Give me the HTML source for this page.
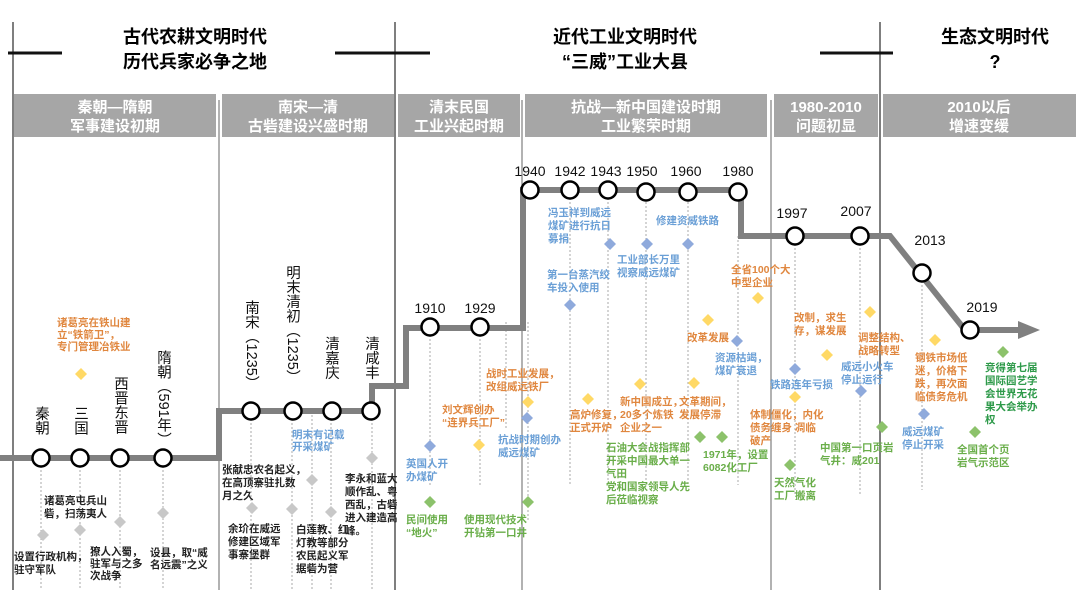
<!DOCTYPE html>
<html><head><meta charset="utf-8"><style>
html,body{margin:0;padding:0;background:#fff}
svg{display:block;font-family:"Liberation Sans","Noto Sans CJK SC",sans-serif}
.t{font-size:10.5px;font-weight:bold}
.o{fill:#e0873f}.b{fill:#6a9fd6}.g{fill:#6aae4a}.k{fill:#222}.dg{fill:#2e9a4a}
.yr{font-size:14px;fill:#111}
.vt{writing-mode:vertical-rl;font-size:14.5px;fill:#111}
.bar{fill:#a6a6a6}
.bt{fill:#fff;font-size:15px;font-weight:bold;text-anchor:middle}
.h{font-size:18px;font-weight:bold;text-anchor:middle;fill:#000}
</style></head><body>
<svg width="1080" height="601" viewBox="0 0 1080 601">
<g stroke="#7f7f7f">
<line x1="13" y1="22" x2="13" y2="590" stroke-width="2"/>
<line x1="395" y1="22" x2="395" y2="590" stroke-width="2"/>
<line x1="880" y1="22" x2="880" y2="590" stroke-width="2"/>
<line x1="219" y1="100" x2="219" y2="590" stroke-width="1.2"/>
<line x1="522" y1="100" x2="522" y2="590" stroke-width="1.2"/>
<line x1="771" y1="100" x2="771" y2="590" stroke-width="1.2"/>
</g>
<g stroke="#111" stroke-width="3">
<line x1="8" y1="53" x2="62" y2="53"/><line x1="335" y1="53" x2="395" y2="53"/>
<line x1="395" y1="53" x2="430" y2="53"/><line x1="820" y1="53" x2="893" y2="53"/>
</g>
<text class="h" x="195" y="43">古代农耕文明时代</text>
<text class="h" x="195" y="68">历代兵家必争之地</text>
<text class="h" x="625" y="43">近代工业文明时代</text>
<text class="h" x="625" y="68">“三威”工业大县</text>
<text class="h" x="995" y="43">生态文明时代</text>
<text class="h" x="995" y="68">?</text>
<rect class="bar" x="14" y="94" width="202" height="43"/>
<rect class="bar" x="222" y="94" width="172" height="43"/>
<rect class="bar" x="398" y="94" width="122" height="43"/>
<rect class="bar" x="525" y="94" width="242" height="43"/>
<rect class="bar" x="774" y="94" width="104" height="43"/>
<rect class="bar" x="883" y="94" width="193" height="43"/>
<text class="bt" x="115" y="112">秦朝—隋朝</text><text class="bt" x="115" y="131">军事建设初期</text>
<text class="bt" x="308" y="112">南宋—清</text><text class="bt" x="308" y="131">古砦建设兴盛时期</text>
<text class="bt" x="459" y="112">清末民国</text><text class="bt" x="459" y="131">工业兴起时期</text>
<text class="bt" x="646" y="112">抗战—新中国建设时期</text><text class="bt" x="646" y="131">工业繁荣时期</text>
<text class="bt" x="826" y="112">1980-2010</text><text class="bt" x="826" y="131">问题初显</text>
<text class="bt" x="979" y="112">2010以后</text><text class="bt" x="979" y="131">增速变缓</text>
<g stroke="#aaa" stroke-width="1" stroke-dasharray="2,2">
<line x1="41" y1="458" x2="41" y2="590"/><line x1="80" y1="458" x2="80" y2="590"/>
<line x1="120" y1="458" x2="120" y2="590"/><line x1="163" y1="458" x2="163" y2="590"/>
<line x1="251" y1="411" x2="251" y2="590"/><line x1="292" y1="411" x2="292" y2="590"/>
<line x1="312" y1="411" x2="312" y2="590"/>
<line x1="331" y1="411" x2="331" y2="590"/><line x1="372" y1="411" x2="372" y2="590"/>
<line x1="430" y1="327" x2="430" y2="485"/><line x1="480" y1="327" x2="480" y2="485"/>
<line x1="506" y1="322" x2="506" y2="430"/><line x1="528" y1="322" x2="528" y2="520"/>
<line x1="570" y1="190" x2="570" y2="485"/><line x1="608" y1="190" x2="608" y2="485"/>
<line x1="646" y1="190" x2="646" y2="485"/><line x1="688" y1="190" x2="688" y2="485"/>
<line x1="738" y1="236" x2="738" y2="485"/>
<line x1="795" y1="236" x2="795" y2="495"/><line x1="860" y1="236" x2="860" y2="495"/>
<line x1="922" y1="273" x2="922" y2="490"/>
</g>
<polyline points="0,458 219,458 219,411 372,411 372,386 406,386 406,328 523,328 523,190 741,190 741,236 890,236 965,330 1020,330" fill="none" stroke="#808080" stroke-width="6"/>
<polygon points="1018,321 1040,330 1018,339" fill="#808080"/>
<g fill="#fff" stroke="#000" stroke-width="2.5">
<circle cx="41" cy="458" r="8.5"/><circle cx="80" cy="458" r="8.5"/><circle cx="120" cy="458" r="8.5"/><circle cx="163" cy="458" r="8.5"/>
<circle cx="251" cy="411" r="8.5"/><circle cx="293" cy="411" r="8.5"/><circle cx="332" cy="411" r="8.5"/><circle cx="371" cy="411" r="8.5"/>
<circle cx="430" cy="327" r="8.5"/><circle cx="480" cy="327" r="8.5"/>
<circle cx="530" cy="190" r="8.5"/><circle cx="570" cy="190" r="8.5"/><circle cx="608" cy="190" r="8.5"/><circle cx="646" cy="192" r="8.5"/><circle cx="688" cy="192" r="8.5"/><circle cx="738" cy="192" r="8.5"/>
<circle cx="795" cy="236" r="8.5"/><circle cx="860" cy="236" r="8.5"/><circle cx="922" cy="273" r="8.5"/><circle cx="970" cy="330" r="8.5"/>
</g>
<text class="vt" x="41" y="406">秦朝</text>
<text class="vt" x="80" y="406">三国</text>
<text class="vt" x="120" y="376">西晋东晋</text>
<text class="vt" x="163" y="350">隋朝（591年）</text>
<text class="vt" x="251" y="300">南宋（1235）</text>
<text class="vt" x="292" y="265">明末清初（1235）</text>
<text class="vt" x="331" y="336">清嘉庆</text>
<text class="vt" x="371" y="336">清咸丰</text>
<g class="yr" text-anchor="middle">
<text x="430" y="313">1910</text><text x="480" y="313">1929</text>
<text x="530" y="176">1940</text><text x="570" y="176">1942</text><text x="606" y="176">1943</text><text x="642" y="176">1950</text><text x="686" y="176">1960</text><text x="738" y="176">1980</text>
<text x="792" y="218">1997</text><text x="856" y="216">2007</text><text x="930" y="245">2013</text><text x="982" y="312">2019</text>
</g>
<g stroke="none">
<g fill="#ffd966"><path d="M81,368l6,6-6,6-6-6z"/><path d="M479,439l6,6-6,6-6-6z"/><path d="M528,396l6,6-6,6-6-6z"/><path d="M588,393l6,6-6,6-6-6z"/><path d="M640,378l6,6-6,6-6-6z"/><path d="M694,377l6,6-6,6-6-6z"/><path d="M708,314l6,6-6,6-6-6z"/><path d="M758,292l6,6-6,6-6-6z"/><path d="M827,349l6,6-6,6-6-6z"/><path d="M870,306l6,6-6,6-6-6z"/><path d="M795,391l6,6-6,6-6-6z"/><path d="M935,334l6,6-6,6-6-6z"/></g>
<g fill="#8faadc"><path d="M430,440l6,6-6,6-6-6z"/><path d="M527,412l6,6-6,6-6-6z"/><path d="M570,299l6,6-6,6-6-6z"/><path d="M610,238l6,6-6,6-6-6z"/><path d="M647,238l6,6-6,6-6-6z"/><path d="M688,238l6,6-6,6-6-6z"/><path d="M737,335l6,6-6,6-6-6z"/><path d="M795,363l6,6-6,6-6-6z"/><path d="M861,385l6,6-6,6-6-6z"/><path d="M924,408l6,6-6,6-6-6z"/></g>
<g fill="#8cc26b"><path d="M430,496l6,6-6,6-6-6z"/><path d="M528,496l6,6-6,6-6-6z"/><path d="M700,431l6,6-6,6-6-6z"/><path d="M722,431l6,6-6,6-6-6z"/><path d="M882,421l6,6-6,6-6-6z"/><path d="M790,459l6,6-6,6-6-6z"/><path d="M1003,346l6,6-6,6-6-6z"/><path d="M975,426l6,6-6,6-6-6z"/></g>
<g fill="#c8c8c8"><path d="M43,529l6,6-6,6-6-6z"/><path d="M80,524l6,6-6,6-6-6z"/><path d="M120,516l6,6-6,6-6-6z"/><path d="M163,507l6,6-6,6-6-6z"/><path d="M252,502l6,6-6,6-6-6z"/><path d="M312,474l6,6-6,6-6-6z"/><path d="M292,503l6,6-6,6-6-6z"/><path d="M331,506l6,6-6,6-6-6z"/><path d="M372,452l6,6-6,6-6-6z"/></g>
</g>
<g class="t">
<text class="o" x="57" y="326">诸葛亮在铁山建</text><text class="o" x="57" y="338">立“铁箭卫”，</text><text class="o" x="57" y="350">专门管理冶铁业</text>
<text class="k" x="44" y="504">诸葛亮屯兵山</text><text class="k" x="44" y="517">砦，扫荡夷人</text>
<text class="k" x="14" y="560">设置行政机构，</text><text class="k" x="14" y="573">驻守军队</text>
<text class="k" x="90" y="555">獠人入蜀，</text><text class="k" x="90" y="567">驻军与之多</text><text class="k" x="90" y="579">次战争</text>
<text class="k" x="150" y="556">设县，取“威</text><text class="k" x="150" y="568">名远震”之义</text>
<text class="k" x="222" y="473">张献忠农名起义，</text><text class="k" x="222" y="486">在高顶寨驻扎数</text><text class="k" x="222" y="499">月之久</text>
<text class="k" x="228" y="532">余玠在威远</text><text class="k" x="228" y="545">修建区域军</text><text class="k" x="228" y="558">事寨堡群</text>
<text class="b" x="292" y="438">明末有记载</text><text class="b" x="292" y="450">开采煤矿</text>
<text class="k" x="296" y="533">白莲教、红</text><text class="k" x="296" y="546">灯教等部分</text><text class="k" x="296" y="559">农民起义军</text><text class="k" x="296" y="572">据砦为营</text>
<text class="k" x="345" y="482">李永和蓝大</text><text class="k" x="345" y="495">顺作乱、粤</text><text class="k" x="345" y="508">西乱，古砦</text><text class="k" x="345" y="521">进入建造高</text><text class="k" x="345" y="534">峰。</text>
<text class="o" x="486" y="377">战时工业发展，</text><text class="o" x="486" y="390">改组威远铁厂</text>
<text class="o" x="442" y="413">刘文辉创办</text><text class="o" x="442" y="426">“连界兵工厂”</text>
<text class="b" x="498" y="443">抗战时期创办</text><text class="b" x="498" y="456">威远煤矿</text>
<text class="b" x="406" y="467">英国人开</text><text class="b" x="406" y="480">办煤矿</text>
<text class="g" x="406" y="523">民间使用</text><text class="g" x="406" y="536">“地火”</text>
<text class="g" x="464" y="523">使用现代技术</text><text class="g" x="464" y="536">开钻第一口井</text>
<text class="b" x="548" y="216">冯玉祥到威远</text><text class="b" x="548" y="229">煤矿进行抗日</text><text class="b" x="548" y="242">募捐</text>
<text class="b" x="656" y="224">修建资威铁路</text>
<text class="b" x="547" y="278">第一台蒸汽绞</text><text class="b" x="547" y="291">车投入使用</text>
<text class="b" x="617" y="263">工业部长万里</text><text class="b" x="617" y="276">视察威远煤矿</text>
<text class="o" x="731" y="273">全省100个大</text><text class="o" x="731" y="286">中型企业</text>
<text class="o" x="687" y="341">改革发展</text>
<text class="b" x="715" y="361">资源枯竭，</text><text class="b" x="715" y="374">煤矿衰退</text>
<text class="o" x="570" y="418">高炉修复，</text><text class="o" x="570" y="431">正式开炉</text>
<text class="o" x="620" y="405">新中国成立，</text><text class="o" x="620" y="418">20多个炼铁</text><text class="o" x="620" y="431">企业之一</text>
<text class="o" x="679" y="405">文革期间，</text><text class="o" x="679" y="418">发展停滞</text>
<text class="o" x="750" y="418">体制僵化，内化</text><text class="o" x="750" y="431">债务缠身 凋临</text><text class="o" x="750" y="444">破产</text>
<text class="g" x="606" y="451">石油大会战指挥部</text><text class="g" x="606" y="464">开采中国最大单一</text><text class="g" x="606" y="477">气田</text><text class="g" x="606" y="490">党和国家领导人先</text><text class="g" x="606" y="503">后莅临视察</text>
<text class="g" x="703" y="458">1971年，设置</text><text class="g" x="703" y="471">6082化工厂</text>
<text class="o" x="794" y="321">改制，求生</text><text class="o" x="794" y="334">存，谋发展</text>
<text class="o" x="858" y="341">调整结构、</text><text class="o" x="858" y="354">战略转型</text>
<text class="b" x="770" y="388">铁路连年亏损</text>
<text class="b" x="841" y="370">威远小火车</text><text class="b" x="841" y="383">停止运行</text>
<text class="g" x="820" y="451">中国第一口页岩</text><text class="g" x="820" y="464">气井：威201</text>
<text class="g" x="774" y="486">天然气化</text><text class="g" x="774" y="499">工厂搬离</text>
<text class="o" x="915" y="361">钢铁市场低</text><text class="o" x="915" y="374">迷，价格下</text><text class="o" x="915" y="387">跌，再次面</text><text class="o" x="915" y="400">临债务危机</text>
<text class="b" x="902" y="435">威远煤矿</text><text class="b" x="902" y="448">停止开采</text>
<text class="dg" x="985" y="371">竞得第七届</text><text class="dg" x="985" y="384">国际园艺学</text><text class="dg" x="985" y="397">会世界无花</text><text class="dg" x="985" y="410">果大会举办</text><text class="dg" x="985" y="423">权</text>
<text class="g" x="957" y="453">全国首个页</text><text class="g" x="957" y="466">岩气示范区</text>
</g>
</svg>
</body></html>
